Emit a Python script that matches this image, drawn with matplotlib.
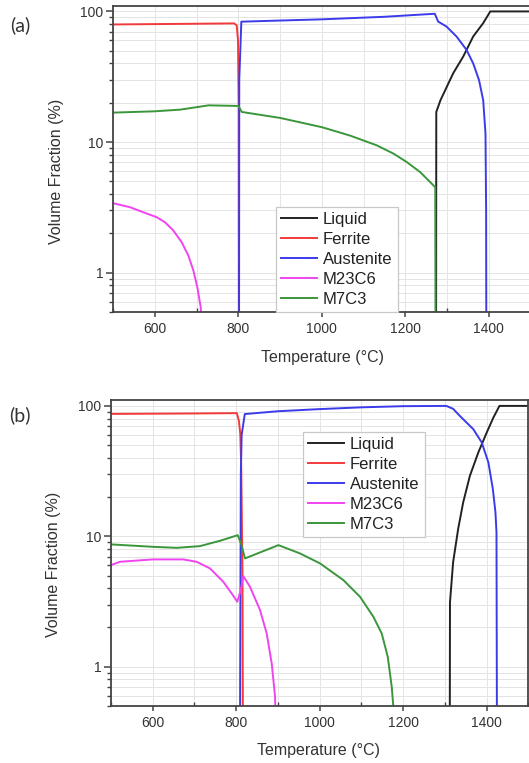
import matplotlib
matplotlib.use("Agg")
import matplotlib.pyplot as plt
from matplotlib.ticker import FixedLocator, NullFormatter, FuncFormatter

plt.rcParams['font.family'] = ['Liberation Sans', 'DejaVu Sans']

# ---------------- (a) ----------------
a_liquid_T = [1274, 1274.5, 1284.5, 1315, 1339, 1363, 1387, 1404, 1500]
a_liquid_V = [0.3, 17.0, 20.9, 33.6, 45.1, 64.3, 81.4, 100, 100]

a_ferrite_T = [500, 600, 700, 790, 796, 799, 800.5, 801]
a_ferrite_V = [79.5, 80, 80.5, 81, 78, 60, 20, 0.3]

a_austenite_T = [801.5, 802, 807, 1000, 1150, 1271, 1279, 1299, 1323, 1347, 1363,
                 1377, 1387, 1392.5, 1394, 1394.5]
a_austenite_V = [0.3, 30, 83.5, 87, 91, 96, 83.6, 76.6, 64.3, 50.8, 40,
                 29.8, 20.9, 11.6, 3, 0.3]

a_m23c6_T = [500, 540, 572, 604, 624, 644, 664, 680, 692, 701.6, 709.7, 713]
a_m23c6_V = [3.40, 3.17, 2.90, 2.66, 2.43, 2.10, 1.71, 1.35, 1.04, 0.77, 0.54, 0.3]

a_m7c3_T = [500, 600, 660, 700, 728, 800, 808, 900, 1000, 1068, 1132, 1172, 1204,
            1236, 1260, 1272, 1272.7]
a_m7c3_V = [16.8, 17.2, 17.7, 18.5, 19.1, 18.9, 17.0, 15.3, 13.0, 11.2, 9.43, 8.15,
            7.02, 5.88, 4.93, 4.51, 0.3]

# ---------------- (b) ----------------
b_liquid_T = [1311.5, 1312, 1319.5, 1331.6, 1343.6, 1359.7, 1379.8, 1400, 1416,
              1430.5, 1500]
b_liquid_V = [0.3, 3.12, 6.33, 11.4, 18.2, 29.1, 43.9, 62.5, 81.4, 100, 100]

b_ferrite_T = [500, 700, 801.5, 806.4, 809.7, 812, 815, 816]
b_ferrite_V = [86.8, 87.5, 88, 76.8, 60.7, 33.7, 5, 0.3]

b_austenite_T = [809, 811, 813, 820.5, 900, 1000, 1100, 1200, 1303, 1319.5, 1335.6,
                 1367.8, 1388, 1404, 1414.6, 1420.9, 1423.4, 1424.5]
b_austenite_V = [0.3, 30, 60, 86.6, 91, 94.5, 97.5, 99.5, 100, 95, 83.8,
                 66.3, 52.5, 36.8, 23.1, 15.3, 10.7, 0.3]

b_m23c6_T = [500, 521.7, 600, 673, 705, 737, 769, 789, 802.6, 810.8, 817, 833, 857,
             873, 885, 893, 895]
b_m23c6_V = [6.02, 6.38, 6.65, 6.65, 6.38, 5.68, 4.48, 3.65, 3.15, 3.87, 4.95, 4.10,
             2.72, 1.80, 1.06, 0.59, 0.3]

b_m7c3_T = [500, 600, 657.5, 713, 761, 803.6, 811.5, 821, 901, 952.8, 1000.7,
            1056.5, 1096.5, 1128.4, 1148.5, 1163, 1172.5, 1176, 1177]
b_m7c3_V = [8.67, 8.31, 8.16, 8.41, 9.24, 10.2, 8.82, 6.77, 8.56, 7.39, 6.2,
            4.62, 3.44, 2.42, 1.80, 1.19, 0.70, 0.51, 0.3]

phase_names = ['Liquid', 'Ferrite', 'Austenite', 'M23C6', 'M7C3']
phase_colors = ['#222222', '#f23a3a', '#3b3bea', '#f044f0', '#3a963a']

x_major = [600, 800, 1000, 1200, 1400]
y_major = [1, 10, 100]

panels = [
    dict(tag='(a)', rect=[0.2142, 0.5911, 0.7883, 0.4010],
         series=[(a_liquid_T, a_liquid_V), (a_ferrite_T, a_ferrite_V),
                 (a_austenite_T, a_austenite_V), (a_m23c6_T, a_m23c6_V),
                 (a_m7c3_T, a_m7c3_V)],
         leg=dict(loc='lower left', bbox_to_anchor=(0.389, 0.0)),
         tag_xy=(20 / 529, 1 - 25 / 763),
         ylab=(-0.119, 0.46), xlab=(0.502, -0.124)),
    dict(tag='(b)', rect=[0.2098, 0.0747, 0.7892, 0.4004],
         series=[(b_liquid_T, b_liquid_V), (b_ferrite_T, b_ferrite_V),
                 (b_austenite_T, b_austenite_V), (b_m23c6_T, b_m23c6_V),
                 (b_m7c3_T, b_m7c3_V)],
         leg=dict(loc='upper left', bbox_to_anchor=(0.459, 0.898)),
         tag_xy=(20 / 529, 1 - 415 / 763),
         ylab=(-0.119, 0.465), xlab=(0.497, -0.122)),
]

fig = plt.figure(figsize=(5.29, 7.63), dpi=100)

for p in panels:
    ax = fig.add_axes(p['rect'])
    ax.set_yscale('log')
    ax.set_xlim(500, 1500)
    ax.set_ylim(0.5, 110)

    for (t, v), name, col in zip(p['series'], phase_names, phase_colors):
        ax.plot(t, v, color=col, lw=1.4, label=name, solid_joinstyle='round')

    ax.xaxis.set_major_locator(FixedLocator(x_major))
    ax.xaxis.set_minor_locator(FixedLocator([500, 700, 900, 1100, 1300, 1500]))
    ax.yaxis.set_major_locator(FixedLocator(y_major))
    ax.yaxis.set_minor_locator(FixedLocator(
        [m * d for d in (0.1, 1, 10) for m in range(2, 10)]))
    ax.yaxis.set_major_formatter(FuncFormatter(lambda v, _: f'{v:g}'))
    ax.yaxis.set_minor_formatter(NullFormatter())

    ax.grid(True, which='both', color='#e4e4e4', lw=0.7)
    ax.set_axisbelow(True)

    for s in ax.spines.values():
        s.set_color('#444444')
        s.set_linewidth(1.3)

    ax.tick_params(axis='both', which='both', colors='#444444', labelcolor='#333333',
                   labelsize=10)
    ax.tick_params(axis='y', which='major', direction='out', length=5, width=1.1, pad=2)
    ax.tick_params(axis='y', which='minor', direction='out', length=3, width=1.0)
    ax.tick_params(axis='x', which='major', direction='out', length=3.5, width=1.1, pad=4)
    ax.tick_params(axis='x', which='minor', direction='in', length=3, width=1.0)

    ax.set_xlabel('Temperature (°C)', fontsize=11.5, color='#333333')
    ax.set_ylabel('Volume Fraction (%)', fontsize=11.5, color='#333333')
    ax.yaxis.set_label_coords(*p['ylab'])
    ax.xaxis.set_label_coords(*p['xlab'])

    leg = ax.legend(fontsize=12, frameon=True, fancybox=False, framealpha=1,
                    edgecolor='#c8c8c8', handlelength=2.2, handletextpad=0.35,
                    labelspacing=0.3, borderpad=0.3, borderaxespad=0, **p['leg'])
    leg.get_frame().set_linewidth(0.9)
    for txt in leg.get_texts():
        txt.set_color('#222222')

    fig.text(p['tag_xy'][0], p['tag_xy'][1], p['tag'], fontsize=14,
             family=['Lato', 'DejaVu Sans'], color='#333333', ha='center', va='center')

fig.savefig('out.png', dpi=100)
